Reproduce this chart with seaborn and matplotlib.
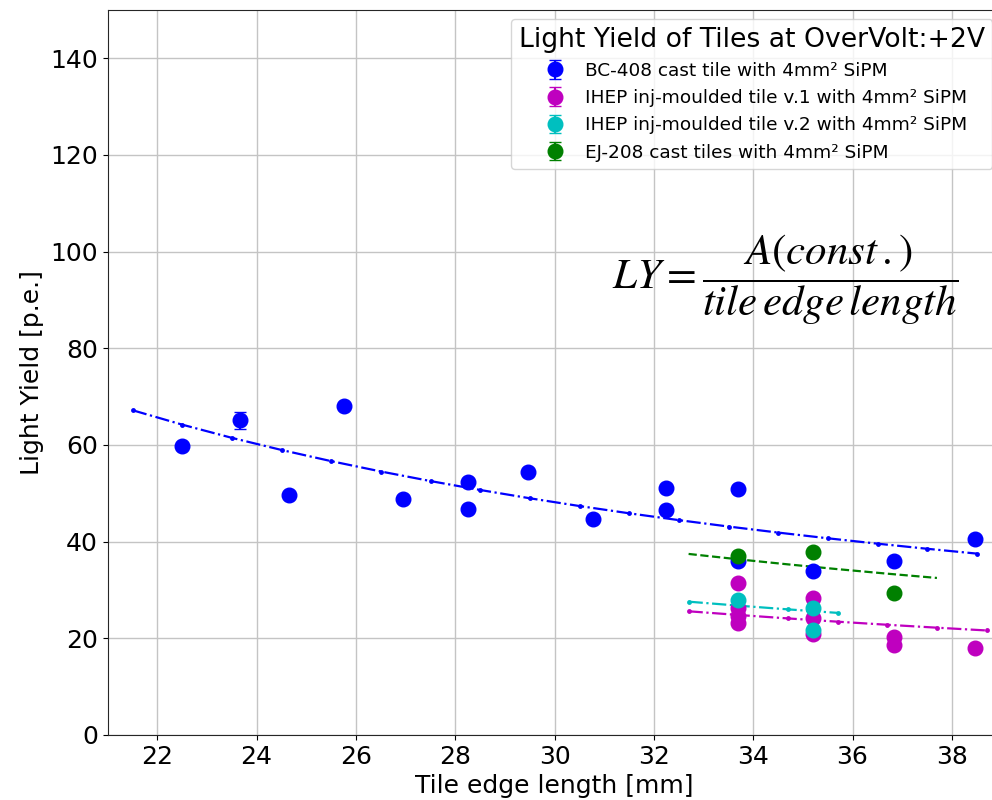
import numpy as np
import matplotlib
matplotlib.use("Agg")
import matplotlib.pyplot as plt
import seaborn as sns

# Measured light yield per tile (edge length in mm, yield in p.e.)
bc408_len = [22.51, 23.67, 24.66, 25.76, 26.94, 28.26, 28.26, 29.46, 30.78,
             32.24, 32.24, 33.69, 33.70, 35.20, 36.84, 38.46]
bc408_ly = [59.7, 65.1, 49.7, 68.0, 48.9, 52.3, 46.8, 54.4, 44.7,
            51.1, 46.5, 50.9, 35.9, 33.9, 35.9, 40.6]
bc408_err = [0.6, 1.8, 0.6, 0.6, 0.6, 0.6, 0.6, 0.6, 0.6,
             0.6, 0.6, 0.6, 0.6, 0.6, 0.6, 0.6]

ihep1_len = [33.70, 33.70, 33.70, 33.70, 35.20, 35.20, 35.20, 36.84, 36.84, 38.46]
ihep1_ly = [31.5, 26.2, 24.6, 23.2, 28.3, 24.3, 20.9, 20.2, 18.7, 18.0]
ihep1_err = [0.5] * 10

ihep2_len = [33.70, 35.20, 35.20]
ihep2_ly = [27.9, 26.2, 21.7]
ihep2_err = [0.5] * 3

ej208_len = [33.70, 35.20, 36.84]
ej208_ly = [37.1, 37.8, 29.4]
ej208_err = [0.5] * 3

# Fitted constants A of LY = A / edge length
fit_A = {"bc408": 1445.0, "ihep1": 837.0, "ihep2": 902.0, "ej208": 1225.0}

labels = ["BC-408 cast tile with 4mm² SiPM",
          "IHEP inj-moulded tile v.1 with 4mm² SiPM",
          "IHEP inj-moulded tile v.2 with 4mm² SiPM",
          "EJ-208 cast tiles with 4mm² SiPM"]

sns.set_style("ticks")
plt.rcParams["font.family"] = ["DejaVu Sans"]
plt.rcParams["mathtext.fontset"] = "stix"
for k in ("text.color", "axes.labelcolor", "xtick.color", "ytick.color"):
    plt.rcParams[k] = "black"

fig = plt.figure(figsize=(9.92, 8.0), dpi=100)
ax = fig.add_axes([107.5 / 992, 65 / 800, 894 / 992, 725 / 800])

series = [
    ("bc408", bc408_len, bc408_ly, bc408_err, "b", "-.", "."),
    ("ihep1", ihep1_len, ihep1_ly, ihep1_err, "m", "-.", "."),
    ("ihep2", ihep2_len, ihep2_ly, ihep2_err, "c", "-.", "."),
    ("ej208", ej208_len, ej208_ly, ej208_err, "g", "--", None),
]

# fit curves, sampled in 1 mm steps around the measured range
for key, xs, ys, es, col, ls, mk in series:
    xf = np.arange(min(xs) - 1.0, max(xs) + 1.0, 1.0)
    yf = fit_A[key] / xf
    sns.lineplot(x=xf, y=yf, ax=ax, color=col, linestyle=ls, marker=mk,
                 markersize=7 if mk else 0, markeredgewidth=0, linewidth=1.6,
                 legend=False, zorder=2)

# measured points with error bars
for (key, xs, ys, es, col, ls, mk), lab in zip(series, labels):
    ax.errorbar(xs, ys, yerr=es, fmt="o", color=col, markersize=10.5,
                capsize=4, elinewidth=1.5, label=lab, zorder=3)

ax.set_xlim(21, 39)
ax.set_ylim(0, 150)
ax.set_xticks(np.arange(22, 39, 2))
ax.set_yticks(np.arange(0, 141, 20))
ax.grid(True, color="#c4c4c4", linewidth=1.0)
ax.tick_params(labelsize=18)
ax.set_xlabel("Tile edge length [mm]", fontsize=18)
ax.set_ylabel("Light Yield [p.e.]", fontsize=18)

leg = ax.legend(loc="upper right", fontsize=13.3,
                title="Light Yield of Tiles at OverVolt:+2V",
                title_fontsize=19.2, framealpha=0.8, handlelength=2.0,
                handletextpad=0.6)

ax.text(0.564, 0.628,
        r"$LY=\dfrac{A\left(const\,.\right)}{tile\,edge\,length}$",
        transform=ax.transAxes, fontsize=31, ha="left", va="center",
        zorder=4)

fig.savefig("out.png", dpi=100)
